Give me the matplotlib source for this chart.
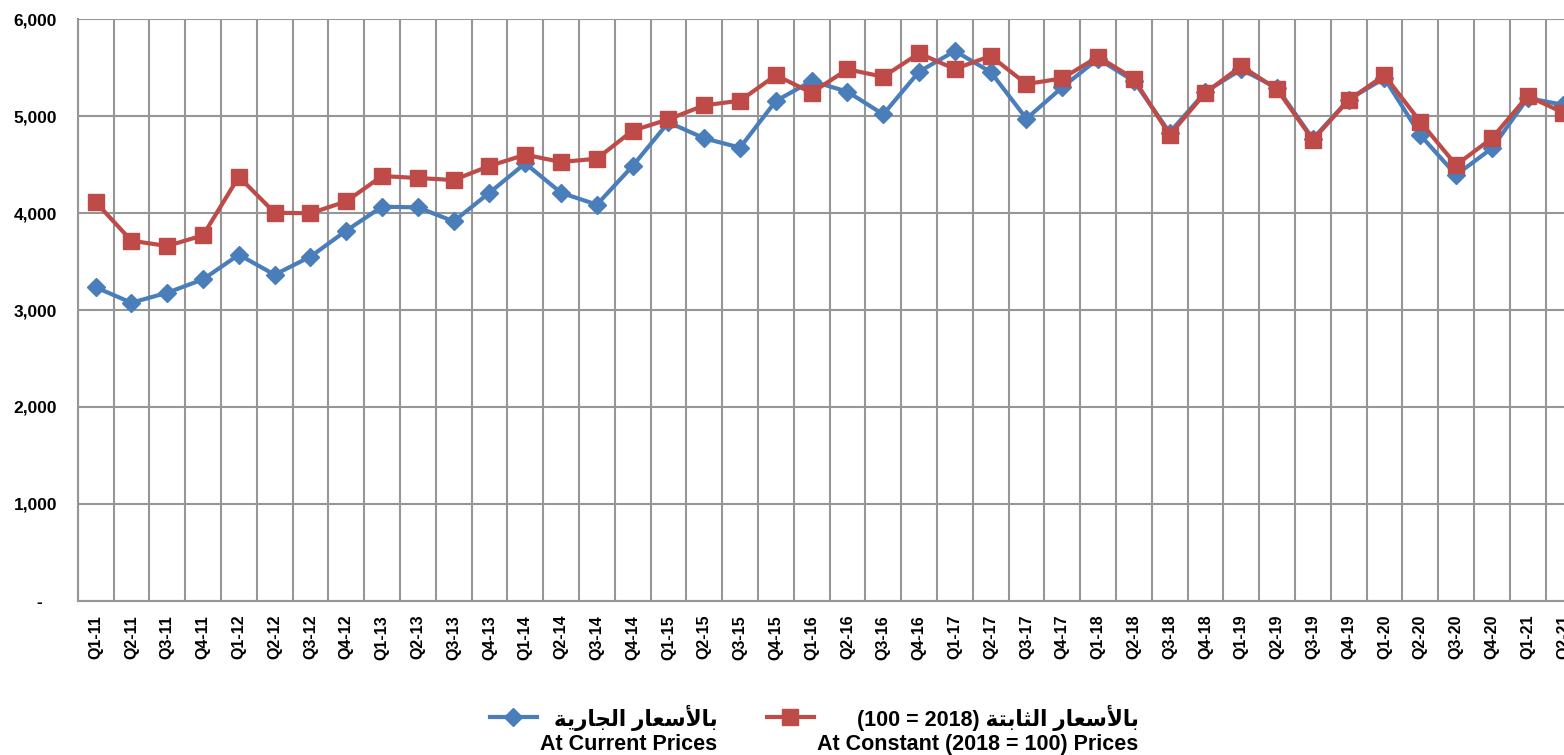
import matplotlib
matplotlib.use("Agg")
import matplotlib.pyplot as plt
from matplotlib.lines import Line2D
from matplotlib.ticker import FixedLocator, FuncFormatter

BLUE = "#4A7EBB"
RED = "#BE4B48"
GRID = "#969696"

quarters = [f"Q{q}-{y}" for y in range(11, 21) for q in range(1, 5)] + ["Q1-21", "Q2-21"]

current_prices = [
    3234, 3075, 3178, 3316,
    3570, 3364, 3550, 3818,
    4065, 4058, 3914, 4209,
    4512, 4209, 4086, 4485,
    4935, 4770, 4674, 5155,
    5361, 5251, 5017, 5457,
    5670, 5454, 4973, 5296,
    5590, 5360, 4830, 5250,
    5480, 5290, 4765, 5170,
    5390, 4804, 4392, 4667,
    5185, 5115,
]
constant_prices = [
    4113, 3714, 3660, 3770,
    4374, 4003, 3997, 4120,
    4381, 4361, 4340, 4485,
    4601, 4526, 4560, 4849,
    4966, 5110, 5158, 5420,
    5240, 5481, 5405, 5646,
    5485, 5619, 5330, 5388,
    5611, 5385, 4804, 5240,
    5515, 5275, 4753, 5165,
    5420, 4941, 4495, 4770,
    5206, 5034,
]
y_ticks = [0, 1000, 2000, 3000, 4000, 5000, 6000]


def visual(*codes):
    # Arabic presentation forms, reversed into display order
    return "".join(chr(c) for c in reversed(codes))


w_bil_asaar = visual(0xFE91, 0xFE8E, 0xFEF7, 0xFEB3, 0xFECC, 0xFE8E, 0xFEAD)
w_aljariya = visual(0xFE8D, 0xFEDF, 0xFEA0, 0xFE8E, 0xFEAD, 0xFEF3, 0xFE94)
w_althabita = visual(0xFE8D, 0xFEDF, 0xFE9C, 0xFE8E, 0xFE91, 0xFE98, 0xFE94)

label_current = " \n" + w_aljariya + " " + w_bil_asaar + "\nAt Current Prices"
label_constant = (" \n(100 = 2018) " + w_althabita + " " + w_bil_asaar
                  + "\nAt Constant (2018 = 100) Prices")

plt.rcParams["font.family"] = ["Liberation Sans", "DejaVu Sans"]
plt.rcParams["font.weight"] = "bold"

fig = plt.figure(figsize=(15.64, 7.55), dpi=100)
ax = fig.add_axes([0.0497, 0.2040, 0.9614, 0.7708])

x = list(range(len(quarters)))
ax.plot(x, current_prices, color=BLUE, lw=3.0, marker="D", ms=8.8,
        clip_on=False, zorder=3)
ax.plot(x, constant_prices, color=RED, lw=3.0, marker="s", ms=11.5,
        clip_on=False, zorder=4)

ax.set_xlim(-0.5, len(quarters) - 0.5)
ax.set_ylim(0, 6000)

ax.set_xticks(x)
ax.set_xticklabels(quarters, rotation=90, fontsize=11.5, fontweight="bold")
ax.xaxis.set_minor_locator(FixedLocator([i - 0.5 for i in range(len(quarters) + 1)]))
ax.set_yticks(y_ticks)
ax.yaxis.set_major_formatter(FuncFormatter(lambda v, p: "-   " if v == 0 else f"{v:,.0f}"))
ax.tick_params(axis="y", length=0, pad=15, labelsize=12.5)
ax.tick_params(axis="x", which="both", length=0, pad=10)

ax.grid(True, axis="y", which="major", color=GRID, lw=1.5)
ax.grid(True, axis="x", which="minor", color=GRID, lw=1.5)
ax.set_axisbelow(True)
for side in ("top", "right"):
    ax.spines[side].set_visible(False)
for side in ("left", "bottom"):
    ax.spines[side].set_color(GRID)
    ax.spines[side].set_linewidth(1.5)

handles = [
    Line2D([], [], color=BLUE, lw=3.0, marker="D", ms=8.8),
    Line2D([], [], color=RED, lw=3.0, marker="s", ms=11.5),
]
leg = fig.legend(handles, [label_current, label_constant], ncol=2,
                 loc="center", bbox_to_anchor=(0.5205, 0.0503),
                 frameon=False, handlelength=2.2, handletextpad=0.15,
                 columnspacing=2.3, borderpad=0,
                 prop={"size": 15.5, "weight": "bold"})
for t in leg.get_texts():
    t.set_multialignment("right")

fig.savefig("out.png", dpi=100, facecolor="white")
